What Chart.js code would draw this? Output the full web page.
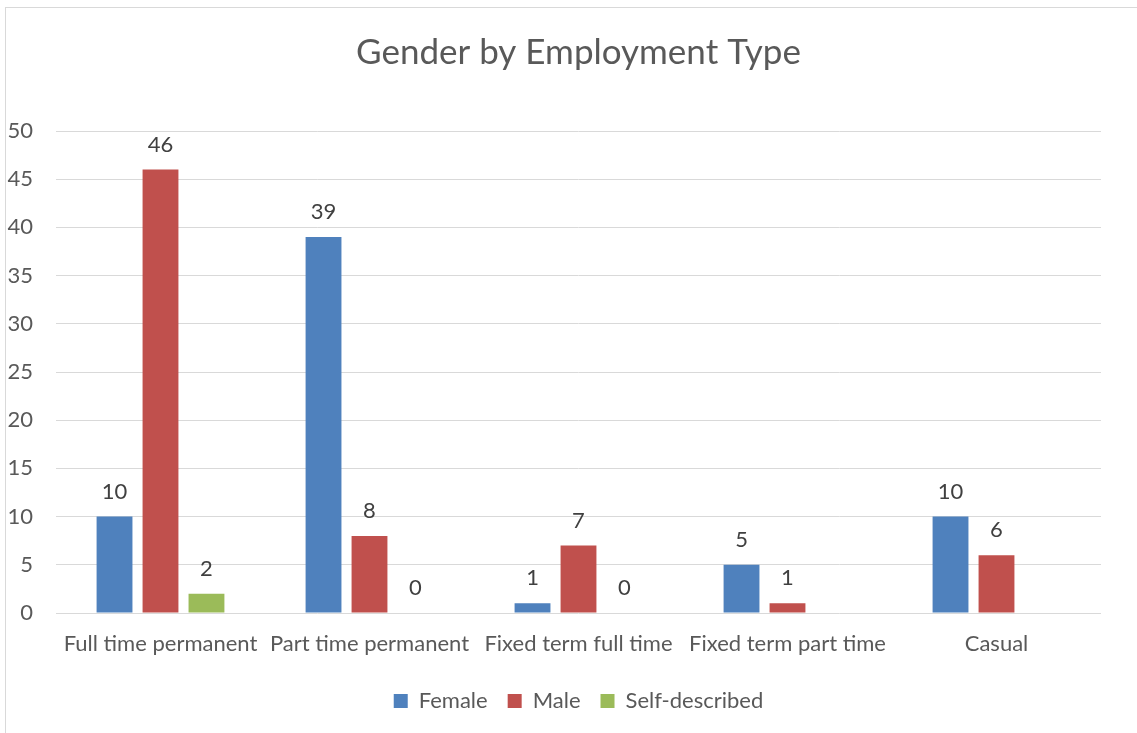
<!DOCTYPE html>
<html>
<head>
<meta charset="utf-8">
<title>Gender by Employment Type</title>
<script src="https://cdn.jsdelivr.net/npm/chart.js@4/dist/chart.umd.min.js"></script>
<style>
  html, body { margin: 0; padding: 0; background: #fff; overflow: hidden; }
  #frame {
    position: absolute; left: 5px; top: 7px; width: 1150px; height: 750px;
    border: 1px solid #d9d9d9; box-sizing: border-box;
  }
  #wrap { position: absolute; left: 0; top: 0; width: 1137px; height: 733px; }
</style>
</head>
<body>
<div id="frame"></div>
<div id="wrap"><canvas id="chart"></canvas></div>
<script>
// Headcount by employment type
const categories = ['Full time permanent', 'Part time permanent', 'Fixed term full time', 'Fixed term part time', 'Casual'];
const female = [10, 39, 1, 5, 10];
const male = [46, 8, 7, 1, 6];
const selfDescribed = [2, 0, 0, null, null];

const yTicks = [0, 5, 10, 15, 20, 25, 30, 35, 40, 45, 50];

const FONT = 'Lato, "Open Sans", sans-serif';
const TEXT = '#595959';

// Value labels above each bar (skips empty values)
const valueLabels = {
  id: 'valueLabels',
  afterDatasetsDraw(chart) {
    const ctx = chart.ctx;
    ctx.save();
    ctx.font = '22px ' + FONT;
    ctx.fillStyle = '#404040';
    ctx.textAlign = 'center';
    ctx.textBaseline = 'middle';
    chart.data.datasets.forEach((ds, i) => {
      const meta = chart.getDatasetMeta(i);
      meta.data.forEach((bar, j) => {
        const v = ds.data[j];
        if (v === null || v === undefined) return;
        ctx.fillText(String(v), bar.x, bar.y - 25);
      });
    });
    ctx.restore();
  }
};

new Chart(document.getElementById('chart'), {
  type: 'bar',
  data: {
    labels: categories,
    datasets: [
      { label: 'Female', data: female, backgroundColor: '#4f81bd' },
      { label: 'Male', data: male, backgroundColor: '#c0504d' },
      { label: 'Self-described', data: selfDescribed, backgroundColor: '#9bbb59' }
    ]
  },
  options: {
    responsive: true,
    maintainAspectRatio: false,
    animation: false,
    datasets: { bar: { categoryPercentage: 0.66, barPercentage: 0.78 } },
    layout: { padding: { left: 0, right: 36, top: 0, bottom: 11 } },
    plugins: {
      title: {
        display: true,
        fullSize: false, // centre over the plot area
        text: 'Gender by Employment Type',
        color: TEXT,
        font: { family: FONT, size: 35, weight: 'normal', lineHeight: 1.2 },
        padding: { top: 32, bottom: 57 }
      },
      legend: {
        position: 'bottom',
        fullSize: false,
        labels: {
          color: TEXT,
          font: { family: FONT, size: 22 },
          boxWidth: 14,
          boxHeight: 14,
          padding: 20
        }
      },
      tooltip: { enabled: false }
    },
    scales: {
      x: {
        grid: { display: false, drawTicks: false },
        border: { display: false },
        ticks: { color: TEXT, font: { family: FONT, size: 22 }, padding: 18, maxRotation: 0, autoSkip: false },
        afterFit(scale) { scale.height = 57; }
      },
      y: {
        min: 0,
        max: 50,
        afterBuildTicks(scale) { scale.ticks = yTicks.map(v => ({ value: v })); },
        grid: { color: '#d9d9d9', lineWidth: 1, drawTicks: false },
        border: { display: false },
        ticks: { color: TEXT, font: { family: FONT, size: 22 }, padding: 23 },
        afterFit(scale) { scale.width = 56; }
      }
    }
  },
  plugins: [valueLabels]
});
</script>
</body>
</html>
